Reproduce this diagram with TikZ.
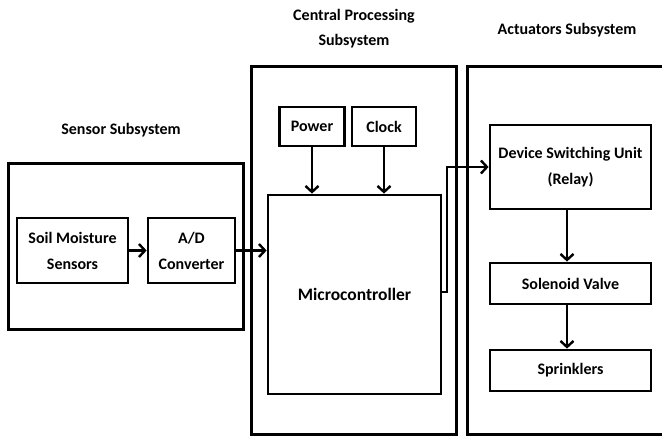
\documentclass[tikz,border=0pt]{standalone}
\usepackage{fontspec}
\setmainfont{Carlito}
\usetikzlibrary{arrows.meta}
\begin{document}
\begin{tikzpicture}[x=1pt,y=-1pt,
  box/.style={draw,line width=3pt},
  inbox/.style={draw,line width=2.8pt,font=\bfseries\fontsize{16}{26}\selectfont,align=center},
  lbl/.style={font=\bfseries\fontsize{16}{25}\selectfont,align=center},
  conn/.style={line width=2.4pt,-{Straight Barb[length=6pt,width=13pt,line width=2.4pt]}}]
\useasboundingbox (0,0) rectangle (662,436);
\clip (0,0) rectangle (662,436);
% subsystem frames
\draw[box] (8,163) rectangle (243,329);
\draw[box] (251,67) rectangle (456,434);
\draw[box] (467,67) rectangle (680,434);
\node[lbl] (lsen) at (121,130) {Sensor Subsystem};
\node[lbl] (lcpu) at (354,29) {Central Processing\\Subsystem};
\node[lbl] (lact) at (567,30) {Actuators Subsystem};
% sensor
\node[inbox,minimum width=111pt,minimum height=65pt] (soil) at (72.5,250.5) {Soil Moisture\\Sensors};
\node[inbox,minimum width=87pt,minimum height=65pt] (adc) at (191.5,250.5) {A/D\\Converter};
% cpu
\node[inbox,minimum width=65pt,minimum height=39pt] (pow) at (312,126.5) {Power};
\node[inbox,minimum width=64pt,minimum height=39pt] (clk) at (384,126.5) {Clock};
\node[inbox,minimum width=173pt,minimum height=199pt,font=\bfseries\fontsize{17.5}{20}\selectfont] (mcu) at (354.5,294.5) {Microcontroller};
% actuators
\node[inbox,minimum width=161pt,minimum height=84pt] (dsu) at (570.5,167) {Device Switching Unit\\(Relay)};
\node[inbox,minimum width=161pt,minimum height=41pt] (sol) at (570.5,283.5) {Solenoid Valve};
\node[inbox,minimum width=161pt,minimum height=41pt] (spr) at (570.5,370.5) {Sprinklers};
% connectors
\draw[conn] (soil.east) -- (adc.west);
\draw[conn] (adc.east) -- (mcu.west |- adc.east);
\draw[conn] (pow.south) -- (mcu.north -| pow.south);
\draw[conn] (clk.south) -- (mcu.north -| clk.south);
\coordinate (turn) at (447,292);
\draw[conn] (mcu.east |- turn) -- (turn) |- (dsu.west);
\draw[conn] (dsu.south -| 567,0) -- (sol.north -| 567,0);
\draw[conn] (sol.south -| 567,0) -- (spr.north -| 567,0);
\end{tikzpicture}
\end{document}
